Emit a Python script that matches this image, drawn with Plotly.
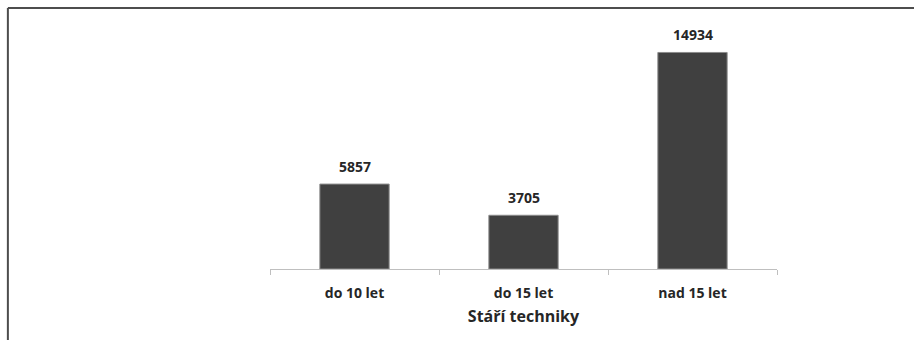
import plotly.graph_objects as go

# Age groups of machinery and counts
categories = ["do 10 let", "do 15 let", "nad 15 let"]
counts = [5857, 3705, 14934]
axis_title = "Stáří techniky"

FONT = "Open Sans"
TEXT_COLOR = "#262626"

fig = go.Figure(
    go.Bar(
        x=categories,
        y=counts,
        width=0.41,
        marker=dict(color="#404040", line=dict(color="#8c8c8c", width=1)),
        hoverinfo="x+y",
    )
)

# Value labels above each bar
for cat, val in zip(categories, counts):
    fig.add_annotation(
        x=cat, y=val, text=f"<b>{val}</b>", showarrow=False,
        yanchor="bottom", yshift=6,
        font=dict(family=FONT, size=14, color=TEXT_COLOR),
    )

# Frame lines along the top and left edges of the page
frame = dict(color="#4d4d4d", width=2)
fig.add_shape(type="line", xref="paper", yref="paper",
              x0=-0.517, x1=1.3, y0=1.125, y1=1.125, line=frame)
fig.add_shape(type="line", xref="paper", yref="paper",
              x0=-0.517, x1=-0.517, y0=1.125, y1=-0.35, line=frame)

fig.update_layout(
    width=914, height=340,
    margin=dict(l=270, r=137, t=37, b=71),
    paper_bgcolor="white", plot_bgcolor="white",
    showlegend=False,
    font=dict(family=FONT, color=TEXT_COLOR),
    xaxis=dict(
        showline=True, linecolor="#bfbfbf", linewidth=1,
        ticks="outside", ticklen=5, tickcolor="#bfbfbf",
        tickson="boundaries",
        tickfont=dict(family=FONT, size=14, color=TEXT_COLOR, weight="bold"),
        ticklabelstandoff=11,
        title=dict(text=axis_title, standoff=10,
                   font=dict(family=FONT, size=16, color=TEXT_COLOR, weight="bold")),
    ),
    yaxis=dict(range=[0, 16000], visible=False, showgrid=False),
)

fig.write_html("out.html")
